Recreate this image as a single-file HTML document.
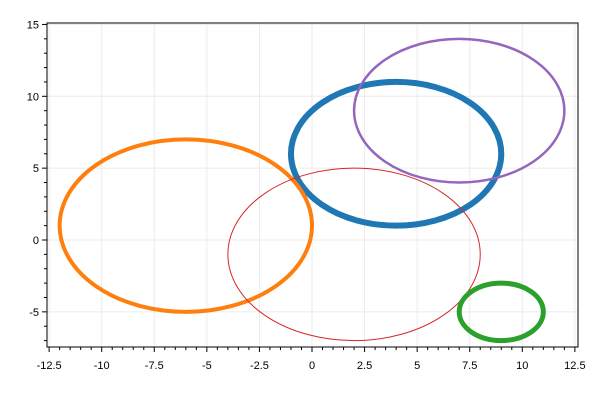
<!DOCTYPE html>
<html><head><meta charset="utf-8"><style>body{margin:0;background:#fff}svg{display:block;font-family:"Liberation Sans",sans-serif}</style></head>
<body>
<svg id="c" width="600" height="400"></svg>
<script>
const names=['blue-ellipse','orange-ellipse','red-ellipse','purple-ellipse','green-ellipse'];
const centersX=[4,-6,2,7,9];
const centersY=[6,1,-1,9,-5];
const radiiX=[5,6,6,5,2];
const radiiY=[5,6,6,5,2];
const colors=['#1f77b4','#ff7f0e','#d62728','#9467bd','#2ca02c'];
const widths=[6,4,1,2.5,5];
const xTicks=[-12.5,-10,-7.5,-5,-2.5,0,2.5,5,7.5,10,12.5];
const xTickLabels=['-12.5','-10','-7.5','-5','-2.5','0','2.5','5','7.5','10','12.5'];
const yTicks=[-5,0,5,10,15];
const yTickLabels=['-5','0','5','10','15'];
const L=47,R=578,T=23,B=347;
const xs=v=>312+v*21.03, ys=v=>240-v*14.37;
const svg=document.getElementById('c');const NS='http://www.w3.org/2000/svg';
function mk(t,a,p){const e=document.createElementNS(NS,t);for(const k in a)e.setAttribute(k,a[k]);(p||svg).appendChild(e);return e;}
xTicks.forEach(v=>{const l=mk('line',{x1:xs(v),x2:xs(v),y1:T,y2:B,stroke:'#ebebeb'});

});
yTicks.forEach(v=>{const l=mk('line',{x1:L,x2:R,y1:ys(v),y2:ys(v),stroke:'#ebebeb'});

});
const f=mk('rect',{x:L,y:T,width:R-L,height:B-T,fill:'none',stroke:'#000','stroke-width':1});


for(let v=-12.5;v<=12.5;v+=0.5){const maj=Math.abs(v/2.5-Math.round(v/2.5))<1e-6;mk('line',{x1:xs(v),x2:xs(v),y1:B,y2:B+(maj?5:3),stroke:'#000'});}
for(let v=-7;v<=15;v+=1){const maj=v%5===0;mk('line',{x1:L,x2:L-(maj?5:3),y1:ys(v),y2:ys(v),stroke:'#000'});}
xTicks.forEach((v,i)=>{const t=mk('text',{x:xs(v),y:B+22,'text-anchor':'middle','font-size':11});t.textContent=xTickLabels[i];

});
yTicks.forEach((v,i)=>{const t=mk('text',{x:L-8,y:ys(v)+4,'text-anchor':'end','font-size':11});t.textContent=yTickLabels[i];

});
names.forEach((n,i)=>{const e=mk('ellipse',{cx:xs(centersX[i]),cy:ys(centersY[i]),rx:radiiX[i]*21.03,ry:radiiY[i]*14.37,fill:'none',stroke:colors[i],'stroke-width':widths[i]});

});
</script>
</body></html>
